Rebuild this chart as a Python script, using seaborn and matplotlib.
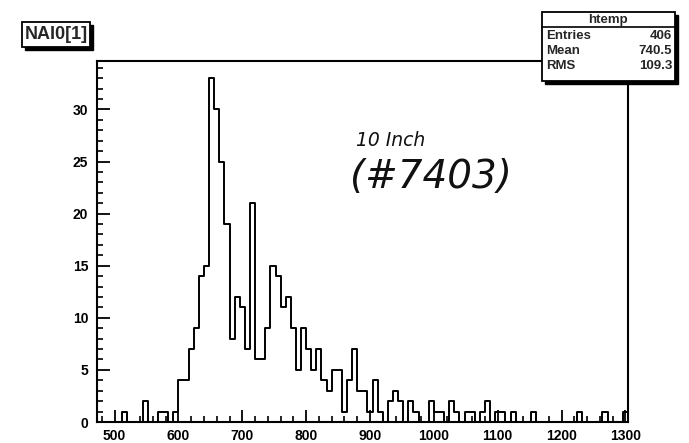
import numpy as np
import pandas as pd
import matplotlib
matplotlib.use("Agg")
import matplotlib.pyplot as plt
from matplotlib.patches import Rectangle
from matplotlib.ticker import MultipleLocator
import seaborn as sns

# ---- histogram definition (ADC channel of NAI0[1]) ----
adc_lo, adc_hi, n_bins = 472, 1304, 104
counts = [
    0, 0, 0, 0, 0, 1, 0, 0, 0, 2, 0, 0, 1, 1, 0, 1,          # 472 - 600
    4, 4, 7, 9, 14, 15, 33, 30, 25, 19, 8, 12, 11, 7, 21,    # 600 - 720
    6, 6, 9, 15, 14, 11, 12, 9, 5, 9, 7, 5, 7, 4, 3, 5,      # 720 - 848
    5, 1, 4, 7, 3, 3, 1, 4,                                  # 848 - 912
    1, 0, 2, 3, 2, 0, 2, 1, 0, 0, 2, 1, 1, 0, 2, 1,          # 912 - 1040
    0, 1, 1, 0, 1, 2, 0, 1, 1, 0, 1, 0, 0, 0, 1, 0,          # 1040 - 1168
    0, 0, 0, 0, 0, 0, 0, 1, 0, 0, 0, 0, 1, 0, 0, 0, 1,       # 1168 - 1304
]
x_ticks = [500, 600, 700, 800, 900, 1000, 1100, 1200, 1300]
y_ticks = [0, 5, 10, 15, 20, 25, 30]

title_text = "NAI0[1]"
stats_title = "htemp"
stats_rows = [("Entries", "406"), ("Mean", "740.5"), ("RMS", "109.3")]
note_lines = ["10 Inch", "(#7403)"]

edges = [float(e) for e in np.linspace(adc_lo, adc_hi, n_bins + 1)]
centers = [0.5 * (a + b) for a, b in zip(edges[:-1], edges[1:])]
df = pd.DataFrame({"adc": centers, "n": [float(c) for c in counts]})

sns.set_theme(style="white")
plt.rcParams["font.family"] = ["Liberation Sans", "DejaVu Sans"]

W, H = 689, 443
fig = plt.figure(figsize=(W / 100, H / 100), dpi=100)
fig.patch.set_facecolor("white")


def fx(px):
    return px / W


def fy(py):
    return 1 - py / H


ax = fig.add_axes([fx(96.7), fy(422), fx(628) - fx(96.7), fy(61) - fy(422)])
ax.set_facecolor("white")

sns.histplot(data=df, x="adc", weights="n", bins=edges, element="step",
             fill=False, color="black", linewidth=1.4, ax=ax)

ax.set_xlim(adc_lo, adc_hi)
ax.set_ylim(0, max(counts) * 1.05)
ax.set_xlabel("")
ax.set_ylabel("")

ax.xaxis.set_major_locator(MultipleLocator(100))
ax.xaxis.set_minor_locator(MultipleLocator(20))
ax.yaxis.set_major_locator(MultipleLocator(5))
ax.yaxis.set_minor_locator(MultipleLocator(1))
ax.set_xticks(x_ticks)
ax.set_yticks(y_ticks)
ax.set_xticklabels([str(v) for v in x_ticks])
ax.set_yticklabels([str(v) for v in y_ticks])

ax.tick_params(axis="both", which="both", direction="in", bottom=True,
               left=True, top=False, right=False, colors="black")
ax.tick_params(axis="both", which="major", length=9, width=1.3, labelsize=10)
ax.tick_params(axis="both", which="minor", length=4.5, width=1.2)
ax.tick_params(axis="x", which="major", pad=5)
ax.tick_params(axis="y", which="major", pad=6)
for lab in ax.get_xticklabels() + ax.get_yticklabels():
    lab.set_fontweight("bold")

for side in ["left", "bottom", "top", "right"]:
    ax.spines[side].set_visible(True)
    ax.spines[side].set_color("black")
    ax.spines[side].set_linewidth(1.5)

# ---- title box with shadow ----
sh = 3
fig.patches.append(Rectangle((fx(21.7 + sh), fy(46.7 + sh)), fx(90) - fx(21.7),
                             fy(21.7) - fy(46.7), transform=fig.transFigure,
                             facecolor="black", edgecolor="black", zorder=5))
fig.patches.append(Rectangle((fx(21.7), fy(46.7)), fx(90) - fx(21.7),
                             fy(21.7) - fy(46.7), transform=fig.transFigure,
                             facecolor="white", edgecolor="black", linewidth=1.3,
                             zorder=6))
fig.text(fx(56), fy(34.5), title_text, ha="center", va="center", fontsize=13,
         fontweight="bold", zorder=7)

# ---- statistics box with shadow ----
bx0, bx1, by0, by1 = 541.7, 675, 11.7, 81
fig.patches.append(Rectangle((fx(bx0 + sh), fy(by1 + sh)), fx(bx1) - fx(bx0),
                             fy(by0) - fy(by1), transform=fig.transFigure,
                             facecolor="black", edgecolor="black", zorder=5))
fig.patches.append(Rectangle((fx(bx0), fy(by1)), fx(bx1) - fx(bx0),
                             fy(by0) - fy(by1), transform=fig.transFigure,
                             facecolor="white", edgecolor="black", linewidth=1.3,
                             zorder=6))
fig.add_artist(plt.Line2D([fx(bx0), fx(bx1)], [fy(27), fy(27)],
                          transform=fig.transFigure, color="black", lw=1.2,
                          zorder=7))
fig.text(fx((bx0 + bx1) / 2), fy(19.5), stats_title, ha="center", va="center",
         fontsize=9.5, fontweight="bold", zorder=8)
for i, (lab, val) in enumerate(stats_rows):
    yy = 36 + 15 * i
    fig.text(fx(bx0 + 4), fy(yy), lab, ha="left", va="center", fontsize=9.5,
             fontweight="bold", zorder=8)
    fig.text(fx(bx1 - 3), fy(yy), val, ha="right", va="center", fontsize=9.5,
             fontweight="bold", zorder=8)

# ---- handwritten note ----
fig.text(fx(356), fy(140), note_lines[0], ha="left", va="center", fontsize=13.5,
         fontstyle="italic", family=["DejaVu Sans"], color="#111111", zorder=8)
fig.text(fx(350), fy(177), note_lines[1], ha="left", va="center", fontsize=28,
         fontstyle="italic", family=["DejaVu Sans"], color="#111111", zorder=8)

fig.savefig("out.png", dpi=100, facecolor="white")
